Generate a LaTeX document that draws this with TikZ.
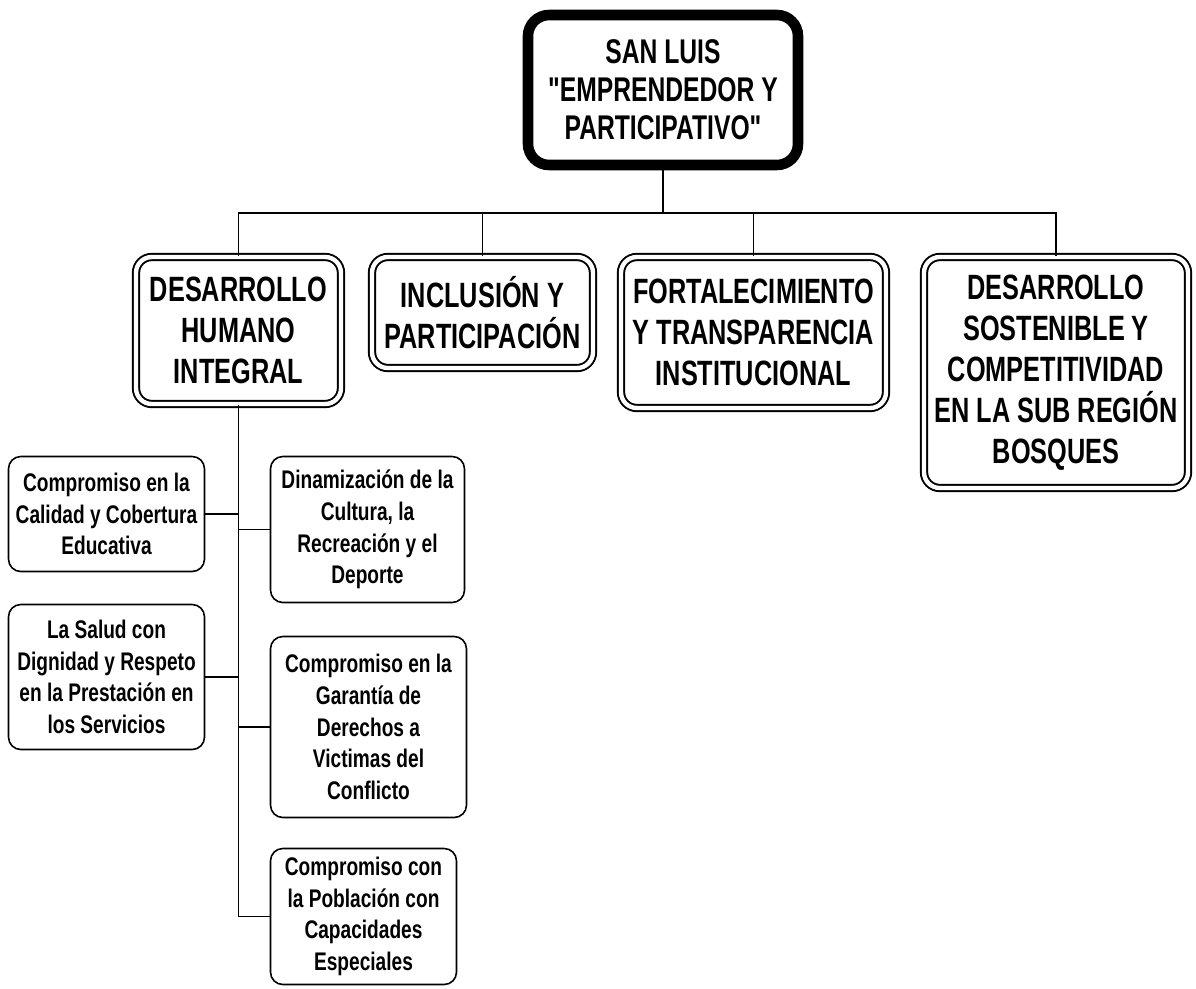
\documentclass[tikz,border=0pt]{standalone}
\usepackage{fontspec}
\newfontfamily\capfont[FakeStretch=0.72]{Liberation Sans}
\newfontfamily\itemfont[FakeStretch=0.75]{Liberation Sans}

\begin{document}
\begin{tikzpicture}[auto,
  main/.style={rectangle,draw,line width=6pt,rounded corners=12pt,align=center,inner sep=0pt,
    font=\capfont\bfseries\fontsize{19.5}{21.6}\selectfont},
  axis/.style={rectangle,draw,double,line width=1.1pt,double distance=2.5pt,rounded corners=9pt,
    align=center,inner sep=0pt,font=\capfont\bfseries\fontsize{20}{23.3}\selectfont},
  item/.style={rectangle,draw,line width=0.9pt,rounded corners=7pt,align=center,inner sep=0pt,
    font=\itemfont\bfseries\fontsize{14.5}{18}\selectfont},
  link/.style={line width=0.9pt}]
\useasboundingbox (0,0) rectangle (23.92,-19.76);
\node (top)  at (13.26,-1.8)  [main,minimum width=5.4cm,minimum height=3.0cm] {SAN LUIS\\"EMPRENDEDOR Y\\PARTICIPATIVO"};
\node (dhi)  at (4.77,-6.61)  [axis,minimum width=4.1cm,minimum height=2.94cm] {DESARROLLO\\HUMANO\\INTEGRAL};
\node (inc)  at (9.65,-6.25)  [axis,minimum width=4.42cm,minimum height=2.22cm] {INCLUSIÓN Y\\PARTICIPACIÓN};
\node (fti)  at (15.07,-6.65) [axis,minimum width=5.3cm,minimum height=3.02cm] {FORTALECIMIENTO\\Y TRANSPARENCIA\\INSTITUCIONAL};
\node (dsc)  at (21.12,-7.45) [axis,minimum width=5.28cm,minimum height=4.62cm] {DESARROLLO\\SOSTENIBLE Y\\COMPETITIVIDAD\\EN LA SUB REGIÓN\\BOSQUES};
\node (edu)  at (2.13,-10.28) [item,minimum width=3.92cm,minimum height=2.3cm]  {Compromiso en la\\Calidad y Cobertura\\Educativa};
\node (sal)  at (2.13,-13.54) [item,minimum width=3.92cm,minimum height=2.9cm]  {La Salud con\\Dignidad y Respeto\\en la Prestación en\\los Servicios};
\node (cul)  at (7.35,-10.59) [item,minimum width=3.88cm,minimum height=2.92cm] {Dinamización de la\\Cultura, la\\Recreación y el\\Deporte};
\node (vic)  at (7.37,-14.54) [item,minimum width=3.92cm,minimum height=3.62cm] {Compromiso en la\\Garantía de\\Derechos a\\Victimas del\\Conflicto};
\node (pob)  at (7.27,-18.33) [item,minimum width=3.72cm,minimum height=2.72cm] {Compromiso con\\la Población con\\Capacidades\\Especiales};
\coordinate (bus) at (0,-4.26);
\draw [link] (top.south) -- (top.south |- bus);
\draw [link] (dhi.north) |- (bus -| dsc.north) -- (dsc.north);
\draw [link] (inc.north) -- (inc.north |- bus);
\draw [link] (fti.north) -- (fti.north |- bus);
\draw [link] (dhi.south) |- (pob.west);
\draw [link] (edu.east) -- (edu.east -| dhi.south);
\draw [link] (sal.east) -- (sal.east -| dhi.south);
\draw [link] (cul.west) -- (cul.west -| dhi.south);
\draw [link] (vic.west) -- (vic.west -| dhi.south);
\end{tikzpicture}
\end{document}
